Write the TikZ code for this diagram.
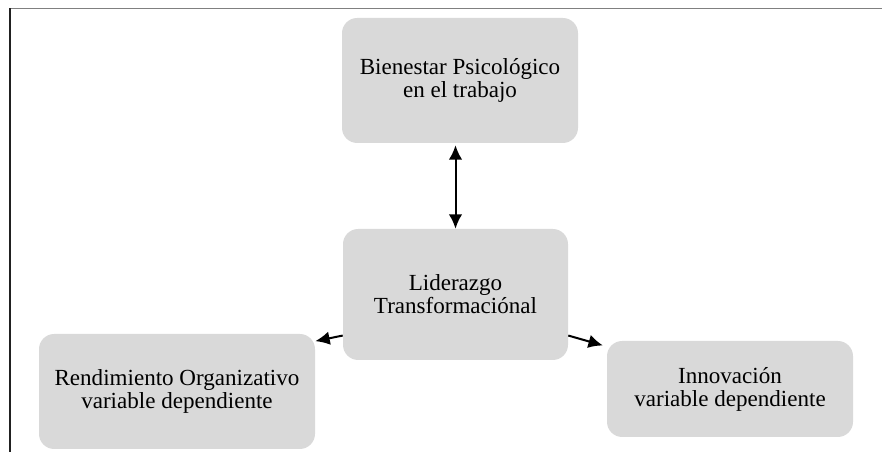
\documentclass[tikz,border=0pt]{standalone}
\usepackage{fontspec}
\setmainfont{Liberation Serif}
\usetikzlibrary{arrows.meta}
\definecolor{boxgray}{rgb}{0.851, 0.851, 0.851}
\definecolor{framegray}{rgb}{0.5, 0.5, 0.5}
\definecolor{framedark}{rgb}{0.13, 0.13, 0.13}
\tikzset{
  box/.style={fill=boxgray, rounded corners=0.38cm, inner sep=0, align=center,
    font=\fontsize{16.4}{16.4}\selectfont},
  arr/.style={line width=0.05cm, -{Latex[length=0.36cm, width=0.34cm]}},
  twoarr/.style={line width=0.05cm, {Latex[length=0.36cm, width=0.34cm]}-{Latex[length=0.36cm, width=0.34cm]}}
}

\begin{document}
\begin{tikzpicture}
\useasboundingbox (0, 0) rectangle (22.05, 11.3);
\draw [framegray, line width=0.04cm] (0.25, 11.0875) -- (22.05, 11.0875);
\draw [framedark, line width=0.03cm] (0.25, 11.0875) -- (0.25, 0);
\node [box, minimum width=5.9cm, minimum height=3.125cm] (bienestar) at (11.5, 9.2875) {Bienestar Psicológico\\en el trabajo};
\node [box, minimum width=5.625cm, minimum height=3.275cm] (lider) at (11.3875, 3.9375) {Liderazgo\\Transformaciónal};
\node [box, minimum width=6.9cm, minimum height=2.875cm] (rend) at (4.425, 1.5125) {Rendimiento Organizativo\\variable dependiente};
\node [box, minimum width=6.15cm, minimum height=2.4cm] (innov) at (18.25, 1.575) {Innovación\\variable dependiente};
\draw [twoarr, shorten <=0.05cm] (bienestar.south -| lider.north) -- (lider.north);
\draw [arr] (lider.200) -- (rend.20);
\draw [arr, shorten >=0.1cm] (lider.-20) -- (innov.161);
\end{tikzpicture}
\end{document}
